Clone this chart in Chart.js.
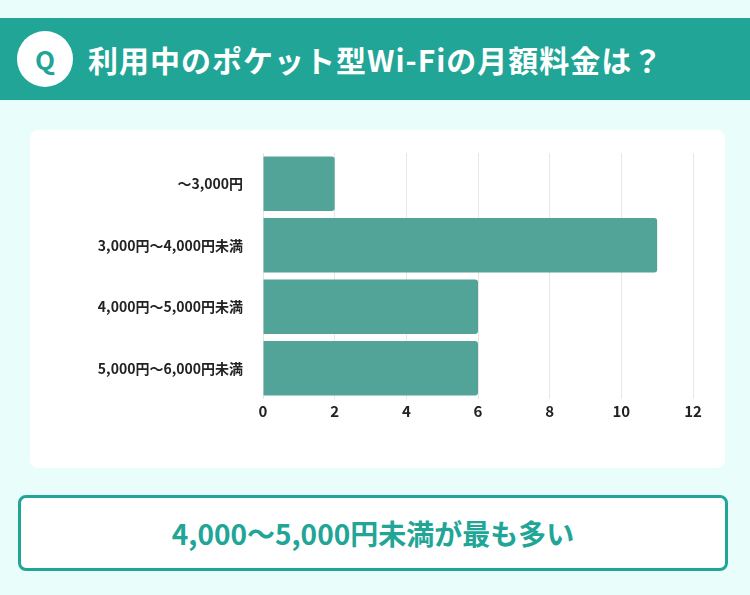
<!DOCTYPE html>
<html><head><meta charset="utf-8">
<script src="https://cdn.jsdelivr.net/npm/chart.js"></script>
<style>
body{margin:0;width:750px;height:595px;background:#e9fdfb;font-family:"Noto Sans CJK JP","Noto Sans",sans-serif;position:relative;overflow:hidden}
#hd{position:absolute;left:0;top:18px;width:750px;height:82px;background:#21a597;color:#fff;font-weight:bold;font-size:30px;line-height:82px}
#q{position:absolute;left:17px;top:23px;width:56px;height:56px;border-radius:50%;background:#fff;color:#21a597;font-size:26px;line-height:56px;text-align:center;top:13px}
#tt{position:absolute;left:88px;top:0;letter-spacing:1px}
#card{position:absolute;left:30px;top:130px;width:695px;height:338px;background:#fff;border-radius:8px}
#ans{position:absolute;left:18px;top:495px;width:704px;height:70px;border:3px solid #21a597;border-radius:8px;background:#fff;color:#21a597;font-weight:bold;font-size:28px;text-align:center;line-height:70px;box-sizing:content-box;width:704px}
</style></head><body>
<div id="hd"><div id="q">Q</div><div id="tt">利用中のポケット型Wi-Fiの月額料金は？</div></div>
<div id="card"><canvas id="c" width="695" height="338"></canvas></div>
<div id="ans">4,000～5,000円未満が最も多い</div>
<script>
var categories = ["～3,000円", "3,000円～4,000円未満", "4,000円～5,000円未満", "5,000円～6,000円未満"];
var counts = [2, 11, 6, 6];
var xMax = 12;

new Chart(document.getElementById("c"), {
  type: 'bar',
  data: {
    labels: categories,
    datasets: [{
      data: counts,
      backgroundColor: '#52a398',
      borderRadius: 3,
      borderSkipped: 'start',
      barPercentage: 0.89,
      categoryPercentage: 1
    }]
  },
  options: {
    indexAxis: 'y',
    responsive: false,
    animation: false,
    layout: {padding: {top: 23, right: 32, bottom: 45, left: 0}},
    plugins: {legend: {display: false}, tooltip: {enabled: false}},
    scales: {
      x: {min: 0, max: xMax, ticks: {stepSize: 2, color: '#222', font: {size: 15, weight: 'bold', family: 'Noto Sans CJK JP'}},
          grid: {color: '#e6e6e6', drawTicks: false}, border: {display: false}},
      y: {ticks: {color: '#222', font: {size: 14, weight: 'bold', family: 'Noto Sans CJK JP'}, padding: 12},
          grid: {display: false}, border: {display: false},
          afterFit: function (s) { s.width = 233; }}
    }
  }
});
</script>
</body></html>
